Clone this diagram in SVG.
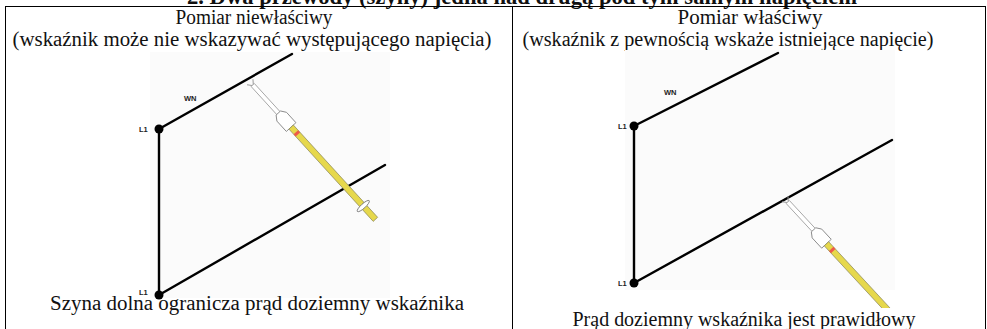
<svg xmlns="http://www.w3.org/2000/svg" width="987" height="329" viewBox="0 0 987 329">
  <style>
    .cap { font-family: "Liberation Serif", "Times New Roman", serif; font-size: 20.5px; fill: #111; text-anchor: middle; }
    .title { font-family: "Liberation Serif", "Times New Roman", serif; font-size: 22.5px; font-weight: bold; fill: #111; text-anchor: middle; }
    .lbl { font-family: "Liberation Sans", Arial, sans-serif; font-size: 7.5px; font-weight: bold; fill: #222; }
    .grid { stroke: #000; stroke-width: 1; fill: none; }
    .bus { stroke: #000; stroke-width: 2.4; fill: none; stroke-linecap: round; }
    .node { fill: #000; }
    .pane { fill: #fbfbfb; }
  </style>
  <defs>
    <!-- test probe drawn along +x, contact at the origin -->
    <g id="probe-body">
      <path d="M0,-4 L5,0 L0,4" fill="none" stroke="#999" stroke-width="1"/>
      <rect x="4" y="-2.2" width="39" height="4.4" fill="#fff" stroke="#999" stroke-width="0.8"/>
      <polygon points="42,-3 47,-6.5 61,-6.5 61,6.5 47,6.5 42,3" fill="#fff" stroke="#888" stroke-width="0.9"/>
      <rect x="61" y="-3" width="125" height="6" fill="#e6d84c" stroke="#8c8a60" stroke-width="0.7"/>
      <rect x="68" y="-3" width="3" height="6" fill="#ee5a4a"/>
    </g>
    <clipPath id="clip-right">
      <rect x="513" y="50" width="472" height="258"/>
    </clipPath>
  </defs>

  <!-- heading, partly cut off by the top edge -->
  <text class="title" x="522" y="4" textLength="670" lengthAdjust="spacingAndGlyphs">2.  Dwa przewody (szyny) jedna nad drugą pod tym samym napięciem</text>

  <!-- table frame -->
  <g id="table">
    <line class="grid" x1="5" y1="6.5" x2="986" y2="6.5"/>
    <line class="grid" x1="5.5" y1="6" x2="5.5" y2="329"/>
    <line class="grid" x1="512.5" y1="6" x2="512.5" y2="329"/>
    <line class="grid" x1="985.5" y1="6" x2="985.5" y2="329"/>
  </g>

  <!-- column headings -->
  <g id="head-left">
    <text class="cap" x="254" y="23.5" textLength="157" lengthAdjust="spacingAndGlyphs">Pomiar niewłaściwy</text>
    <text class="cap" x="252" y="46" textLength="479" lengthAdjust="spacingAndGlyphs">(wskaźnik może nie wskazywać występującego napięcia)</text>
  </g>
  <g id="head-right">
    <text class="cap" x="750" y="23.5" textLength="145" lengthAdjust="spacingAndGlyphs">Pomiar właściwy</text>
    <text class="cap" x="728" y="46" textLength="411" lengthAdjust="spacingAndGlyphs">(wskaźnik z pewnością wskaże istniejące napięcie)</text>
  </g>

  <!-- left: probe touches the upper bus, lower bus in between -->
  <g id="diagram-left">
    <rect class="pane" x="150" y="52" width="240" height="246"/>
    <g id="connectors-left">
      <line class="bus" x1="159" y1="129" x2="159" y2="295"/>
      <line class="bus" x1="159" y1="129" x2="292" y2="54"/>
      <line class="bus" x1="159" y1="295" x2="385" y2="165"/>
    </g>
    <g id="probe-left" transform="translate(250,82) rotate(47.6)">
      <use href="#probe-body"/>
      <ellipse cx="168" cy="0" rx="2.2" ry="8" fill="#fff" stroke="#777" stroke-width="0.9"/>
    </g>
    <g id="node-l1-top-left">
      <circle class="node" cx="159" cy="129" r="4.5"/>
      <text class="lbl" x="139" y="132">L1</text>
    </g>
    <g id="node-l1-bottom-left">
      <circle class="node" cx="159" cy="295" r="4.5"/>
      <text class="lbl" x="139" y="295">L1</text>
    </g>
    <text class="lbl" x="184" y="101">WN</text>
  </g>

  <!-- right: probe touches the lower bus -->
  <g id="diagram-right">
    <rect class="pane" x="625" y="50" width="270" height="240"/>
    <g id="connectors-right">
      <line class="bus" x1="634" y1="126" x2="634" y2="283"/>
      <line class="bus" x1="634" y1="126" x2="778" y2="53"/>
      <line class="bus" x1="634" y1="283" x2="892" y2="140"/>
    </g>
    <g clip-path="url(#clip-right)">
      <g id="probe-right" transform="translate(785,199) rotate(47.2)">
        <use href="#probe-body"/>
      </g>
    </g>
    <g id="node-l1-top-right">
      <circle class="node" cx="634" cy="126" r="4.5"/>
      <text class="lbl" x="618" y="129">L1</text>
    </g>
    <g id="node-l1-bottom-right">
      <circle class="node" cx="634" cy="283" r="4.5"/>
      <text class="lbl" x="618" y="286">L1</text>
    </g>
    <text class="lbl" x="664" y="95">WN</text>
  </g>

  <!-- captions -->
  <text class="cap" x="257" y="310" textLength="414" lengthAdjust="spacingAndGlyphs">Szyna dolna ogranicza prąd doziemny wskaźnika</text>
  <text class="cap" x="744" y="326" textLength="343" lengthAdjust="spacingAndGlyphs">Prąd doziemny wskaźnika jest prawidłowy</text>
</svg>
